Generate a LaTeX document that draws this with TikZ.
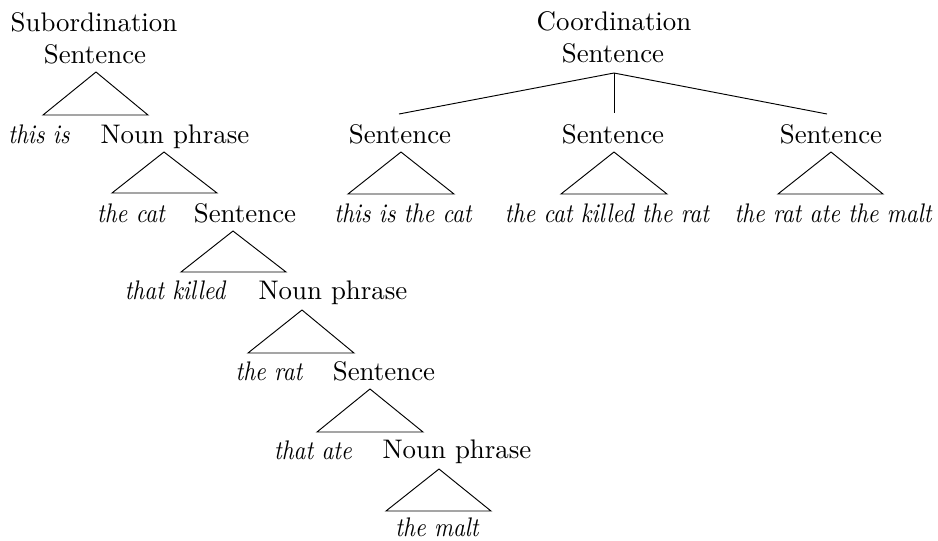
\documentclass[tikz,border=0pt]{standalone}
\usepackage{graphicx}
\newcommand{\narrowit}[1]{\scalebox{0.865}[1]{\itshape #1}}
\begin{document}
\begin{tikzpicture}[x=0.372pt,y=-0.372pt,
  lbl/.style={anchor=base,inner sep=0pt,font=\fontsize{10}{12}\selectfont},
  wrd/.style={anchor=base,inner sep=0pt,font=\fontsize{10}{12}\selectfont},
  tri/.style={line width=0.35pt,line join=miter},
  br/.style={line width=0.35pt}]
\useasboundingbox (0,0) rectangle (938,540);
% Subordination tree
\node[lbl] (sub) at (94,31) {Subordination};
\node[lbl] (s1) at (95,63) {Sentence};
\node[wrd] (w1) at (39,143) {\narrowit{this is}};
\node[lbl] (np1) at (175,143) {Noun phrase};
\node[wrd] (w2) at (131,222) {\narrowit{the cat}};
\node[lbl] (s2) at (245,222) {Sentence};
\node[wrd] (w3) at (175,299) {\narrowit{that killed}};
\node[lbl] (np2) at (333,299) {Noun phrase};
\node[wrd] (w4) at (269,380) {\narrowit{the rat}};
\node[lbl] (s3) at (384,380) {Sentence};
\node[wrd] (w5) at (313,459) {\narrowit{that ate}};
\node[lbl] (np3) at (457,458) {Noun phrase};
\node[wrd] (w6) at (437,536) {\narrowit{the malt}};
% triangles
\coordinate (a1) at (96,72);  \coordinate (l1) at (43,115);  \coordinate (r1) at (148,115);
\coordinate (a2) at (164,152); \coordinate (l2) at (112,193); \coordinate (r2) at (217,193);
\coordinate (a3) at (233,231); \coordinate (l3) at (181,272); \coordinate (r3) at (286,272);
\coordinate (a4) at (302,310); \coordinate (l4) at (248,353); \coordinate (r4) at (354,353);
\coordinate (a5) at (370,389); \coordinate (l5) at (317,432); \coordinate (r5) at (423,432);
\coordinate (a6) at (439,469); \coordinate (l6) at (386,511); \coordinate (r6) at (491,511);
\foreach \i in {1,...,6} {\draw[tri] (a\i) -- (l\i) -- (r\i) -- cycle;}
% Coordination tree
\node[lbl] (coo) at (614,30) {Coordination};
\node[lbl] (cs) at (613,62) {Sentence};
\node[lbl] (ca) at (400,143) {Sentence};
\node[lbl] (cb) at (613,143) {Sentence};
\node[lbl] (cc) at (831,143) {Sentence};
\node[wrd] (wa) at (403,222) {\narrowit{this is the cat}};
\node[wrd] (wb) at (607,222) {\narrowit{the cat killed the rat}};
\node[wrd] (wc) at (833,222) {\narrowit{the rat ate the malt}};
\coordinate (top) at (614,73);
\coordinate (ea) at (399,114); \coordinate (eb) at (614,113); \coordinate (ec) at (827,114);
\draw[br] (top) -- (ea);
\draw[br] (top) -- (eb);
\draw[br] (top) -- (ec);
\coordinate (aa) at (401,152); \coordinate (la) at (348,194); \coordinate (ra) at (454,194);
\coordinate (ab) at (614,152); \coordinate (lb) at (561,194); \coordinate (rb) at (667,194);
\coordinate (ac) at (831,152); \coordinate (lc) at (778,194); \coordinate (rc) at (883,194);
\foreach \i in {a,b,c} {\draw[tri] (a\i) -- (l\i) -- (r\i) -- cycle;}
\end{tikzpicture}
\end{document}
